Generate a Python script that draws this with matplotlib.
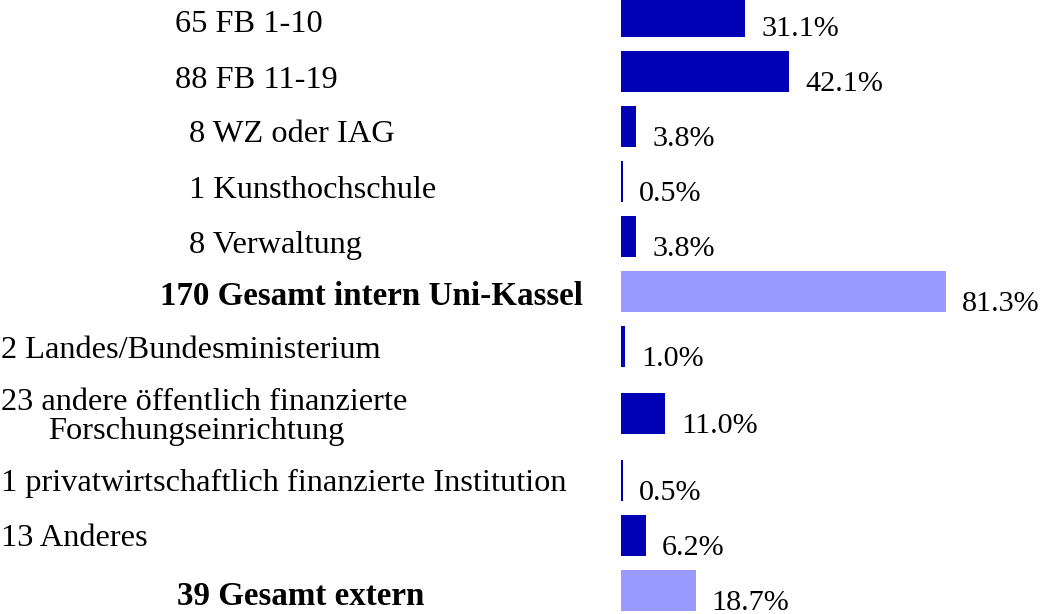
import numpy as np
import matplotlib.pyplot as plt
import matplotlib.transforms as mtransforms

plt.rcParams['font.family'] = ['Liberation Serif', 'DejaVu Serif']

# data
labels = ['65 FB 1-10', '88 FB 11-19', '8 WZ oder IAG', '1 Kunsthochschule',
          '8 Verwaltung', '170 Gesamt intern Uni-Kassel',
          '2 Landes/Bundesministerium',
          '23 andere öffentlich finanzierte\nForschungseinrichtung',
          '1 privatwirtschaftlich finanzierte Institution', '13 Anderes',
          '39 Gesamt extern']
percent = [31.1, 42.1, 3.8, 0.5, 3.8, 81.3, 1.0, 11.0, 0.5, 6.2, 18.7]
is_total = [False, False, False, False, False, True,
            False, False, False, False, True]

# layout (pixels)
label_x = [175, 175, 189, 189, 189, 160, 1, 1, 1, 1, 177]
baseline_off = [16, 16, 16, 16, 16, 13.5, 11, 11, 11, 11, 14.5]
wrap_indent = 47
W, H = 1043, 614
bar_left = 621
px_per_pct = 4.0

idx = np.arange(len(labels))
ypos = 16.5 + 55 * idx + 12 * (idx >= 7) + 12 * (idx >= 8)

fig = plt.figure(figsize=(W / 100, H / 100), dpi=100)
ax = fig.add_axes([0, 0, 1, 1])
ax.set_xlim(-bar_left / px_per_pct, (W - bar_left) / px_per_pct)
ax.set_ylim(H, 0)
ax.axis('off')

colors = ['#9999ff' if t else '#0000b4' for t in is_total]
ax.barh(ypos, percent, height=41, color=colors, left=0)

trans = mtransforms.blended_transform_factory(ax.transAxes, ax.transData)
for i in idx:
    lines = labels[i].split('\n')
    y0 = ypos[i] + baseline_off[i] - 15 * (len(lines) - 1)
    for k, line in enumerate(lines):
        x = label_x[i] + (wrap_indent if k > 0 else 0)
        ax.text(x / W, y0 + 30 * k, line, transform=trans,
                ha='left', va='baseline',
                fontsize=23.8 if is_total[i] else 23.3,
                fontweight='bold' if is_total[i] else 'normal')
    ax.annotate('%.1f%%' % percent[i], (percent[i], ypos[i] + 19.5),
                xytext=(11.5, 0), textcoords='offset points',
                ha='left', va='baseline', fontsize=21.7)

fig.savefig('out.png', dpi=100)
